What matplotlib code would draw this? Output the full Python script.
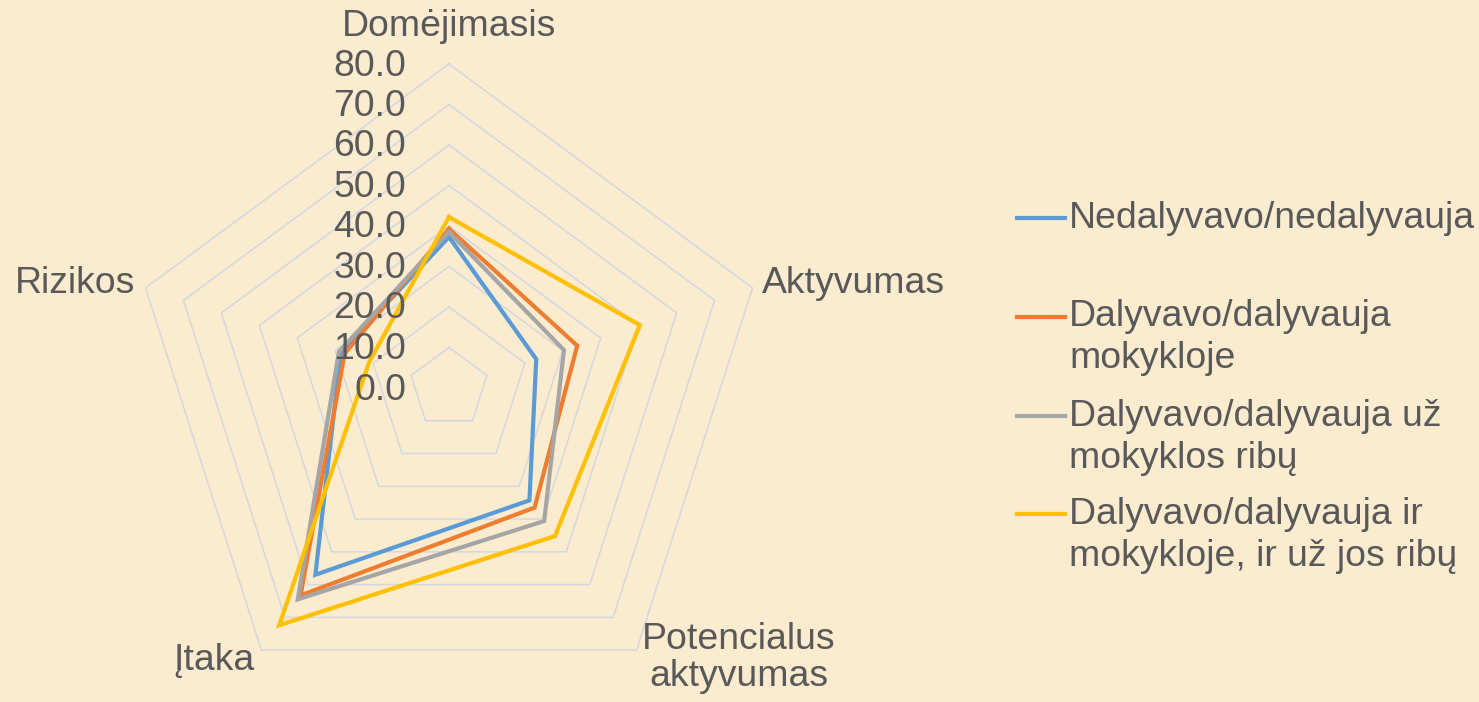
"""Radar chart: participation groups across five indicators (0-80 scale)."""

import numpy as np
import matplotlib

matplotlib.use("Agg")
import matplotlib.pyplot as plt
from matplotlib.lines import Line2D

plt.rcParams["font.family"] = ["Liberation Sans", "DejaVu Sans"]

categories = ["Domėjimasis", "Aktyvumas", "Potencialus\naktyvumas", "Įtaka", "Rizikos"]
series_names = [
    "Nedalyvavo/nedalyvauja",
    "Dalyvavo/dalyvauja\nmokykloje",
    "Dalyvavo/dalyvauja už\nmokyklos ribų",
    "Dalyvavo/dalyvauja ir\nmokykloje, ir už jos ribų",
]
nedalyvavo = [37.3, 23.0, 34.3, 57.0, 28.5]
mokykloje = [39.3, 33.8, 36.5, 63.3, 27.5]
uz_mokyklos = [38.5, 30.3, 40.6, 64.5, 29.0]
abu = [42.2, 50.3, 45.2, 72.4, 21.0]
ring_values = [10, 20, 30, 40, 50, 60, 70, 80]
tick_values = [0, 10, 20, 30, 40, 50, 60, 70, 80]

colors = ["#5B9BD5", "#ED7D31", "#A5A5A5", "#FFC000"]
bg = "#FBEBCF"
text_c = "#595959"
grid_c = "#D3D8E0"

W, H = 1479, 702
cx, cy = 449, 388          # chart centre in pixels
px_per_unit = 324 / 80     # radius of the 80 ring in pixels (vertical)
x_squash = 0.985           # the source chart is a touch narrower than tall

fig = plt.figure(figsize=(W / 100, H / 100), dpi=100, facecolor=bg)
ax = fig.add_axes([0, 0, 1, 1])
ax.set_facecolor(bg)
ax.set_xlim(-cx / (px_per_unit * x_squash), (W - cx) / (px_per_unit * x_squash))
ax.set_ylim(-(H - cy) / px_per_unit, cy / px_per_unit)
ax.axis("off")

n = len(categories)
theta = np.pi / 2 - 2 * np.pi * np.arange(n) / n
theta_c = np.append(theta, theta[0])


def to_xy(vals):
    v = np.append(np.asarray(vals, float), vals[0])
    return v * np.cos(theta_c), v * np.sin(theta_c)


# pentagon grid
for r in ring_values:
    gx, gy = to_xy([r] * n)
    ax.plot(gx, gy, color=grid_c, lw=1.1, zorder=1)

# series
for vals, c in zip([nedalyvavo, mokykloje, uz_mokyklos, abu], colors):
    sx, sy = to_xy(vals)
    ax.plot(sx, sy, color=c, lw=3.0, solid_joinstyle="miter", zorder=3)

fs = 26.9

# radial tick labels
for v in tick_values:
    fig.text(406 / W, 1 - (cy - v * px_per_unit + 2) / H, f"{v:.1f}",
             ha="right", va="center", fontsize=fs, color=text_c, zorder=5)

# category labels (pixel anchors)
label_pos = [
    (449, 27, "center"),
    (762, 283, "left"),
    (739, 658, "center"),
    (214, 661, "center"),
    (135, 283, "right"),
]
for name, (lx, ly, ha) in zip(categories, label_pos):
    fig.text(lx / W, 1 - ly / H, name, ha=ha, va="center", fontsize=fs,
             color=text_c, linespacing=1.05)

# legend, drawn by hand so the swatch sits on the first text line
legend_y = [218, 317, 416, 514]
line_gap = 42
for name, c, yy in zip(series_names, colors, legend_y):
    fig.add_artist(Line2D([1017 / W, 1065 / W], [1 - yy / H, 1 - yy / H],
                          color=c, lw=3.0, transform=fig.transFigure))
    for i, part in enumerate(name.split("\n")):
        fig.text(1069 / W, 1 - (yy + i * line_gap) / H, part, ha="left",
                 va="center", fontsize=fs, color=text_c)

fig.savefig("out.png", dpi=100, facecolor=bg)
